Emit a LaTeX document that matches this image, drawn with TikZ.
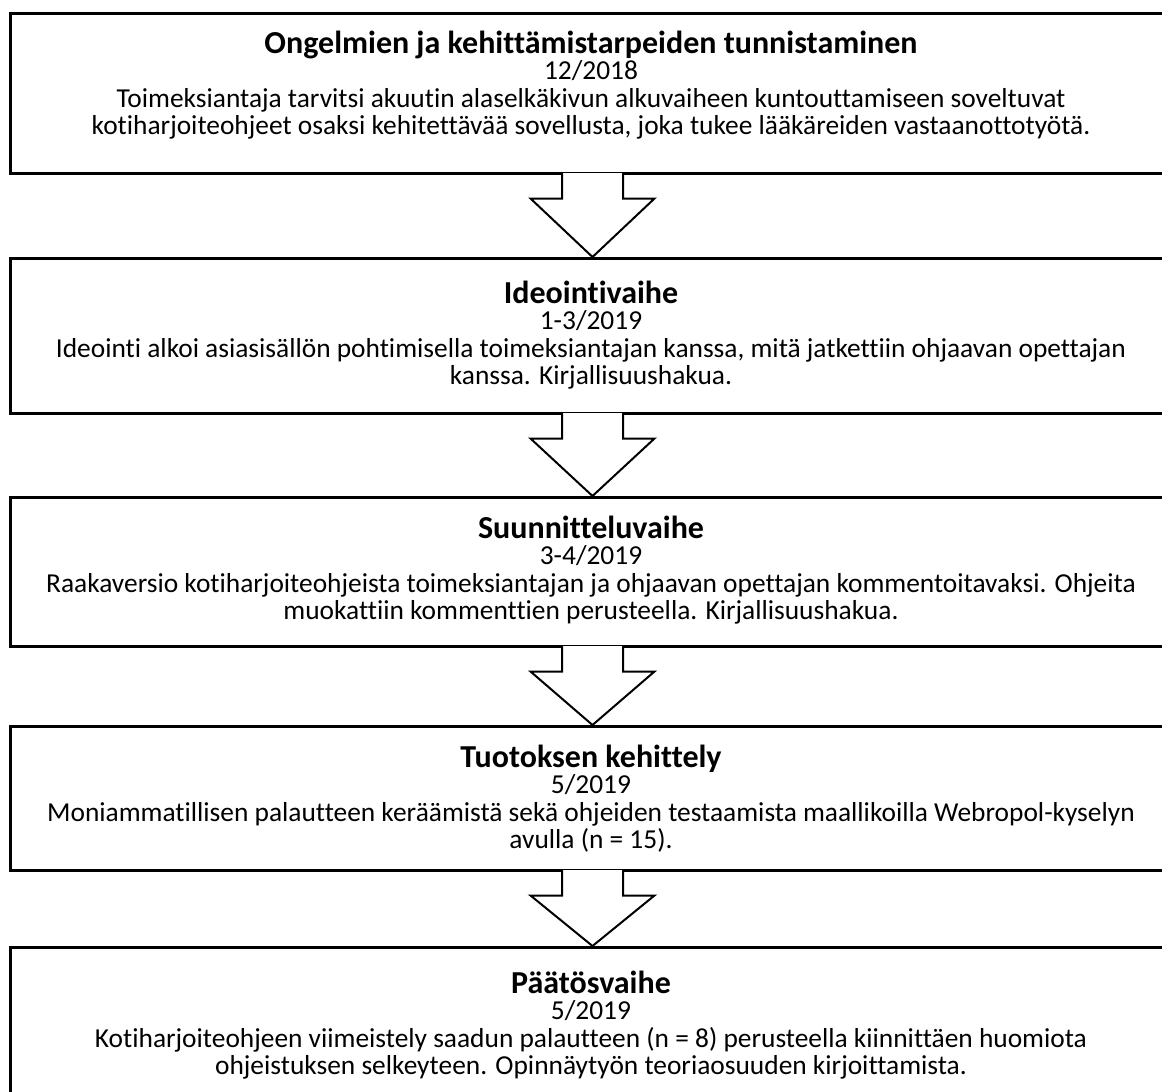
\documentclass[tikz,border=0pt]{standalone}
\usepackage{fontspec}
\setmainfont{Carlito}[Ligatures=NoCommon]
\usetikzlibrary{calc}

\tikzset{
  phase/.style={draw,line width=1.5pt,minimum width=582pt,anchor=north west,inner sep=0pt},
  phasetext/.style={anchor=north,align=center,inner sep=0pt,font=\fontsize{13.7}{13.8}\selectfont},
  flowarrow/.style={draw,fill=white,line width=1pt,line join=miter},
}
\newcommand{\phasetitle}[1]{{\fontsize{16}{16}\selectfont\bfseries #1}}

\begin{document}
\begin{tikzpicture}[x=0.5pt,y=-0.5pt]
  \clip (0,0) rectangle (1162,1092);
  % boxes
  \node[phase,minimum height=80pt] (b1) at (9,12) {};
  \node[phase,minimum height=77.5pt] (b2) at (9,257) {};
  \node[phase,minimum height=74.5pt] (b3) at (9,496) {};
  \node[phase,minimum height=72pt] (b4) at (9,725) {};
  \node[phase,minimum height=90pt] (b5) at (9,946) {};
  % texts
  \node[phasetext] (t1) at (591,31) {\phasetitle{Ongelmien ja kehittämistarpeiden tunnistaminen}\\[-1pt]
    12/2018\\
    Toimeksiantaja tarvitsi akuutin alaselkäkivun alkuvaiheen kuntouttamiseen soveltuvat\\
    kotiharjoiteohjeet osaksi kehitettävää sovellusta, joka tukee lääkäreiden vastaanottotyötä.};
  \node[phasetext] (t2) at (591,281) {\phasetitle{Ideointivaihe}\\[-1pt]
    1-3/2019\\
    Ideointi alkoi asiasisällön pohtimisella toimeksiantajan kanssa, mitä jatkettiin ohjaavan opettajan\\
    kanssa. Kirjallisuushakua.};
  \node[phasetext] (t3) at (591,516) {\phasetitle{Suunnitteluvaihe}\\[-1pt]
    3-4/2019\\
    Raakaversio kotiharjoiteohjeista toimeksiantajan ja ohjaavan opettajan kommentoitavaksi. Ohjeita\\
    muokattiin kommenttien perusteella. Kirjallisuushakua.};
  \node[phasetext] (t4) at (591,745) {\phasetitle{Tuotoksen kehittely}\\[-1pt]
    5/2019\\
    Moniammatillisen palautteen keräämistä sekä ohjeiden testaamista maallikoilla Webropol-kyselyn\\
    avulla (n = 15).};
  \node[phasetext] (t5) at (591,971) {\phasetitle{Päätösvaihe}\\[-1pt]
    5/2019\\
    Kotiharjoiteohjeen viimeistely saadun palautteen (n = 8) perusteella kiinnittäen huomiota\\
    ohjeistuksen selkeyteen. Opinnäytyön teoriaosuuden kirjoittamista.};
  % block arrows
  \foreach \a/\b in {b1/b2,b2/b3,b3/b4,b4/b5}{
    \path[flowarrow] ($(\a.south)+(-30.5,-2)$) -- ++(0,25.5) -- ++(-31.5,0) -- (\b.north)
      -- ($(\a.south)+(62,23.5)$) -- ++(-31.5,0) -- ($(\a.south)+(30.5,-2)$);
  }
\end{tikzpicture}
\end{document}
